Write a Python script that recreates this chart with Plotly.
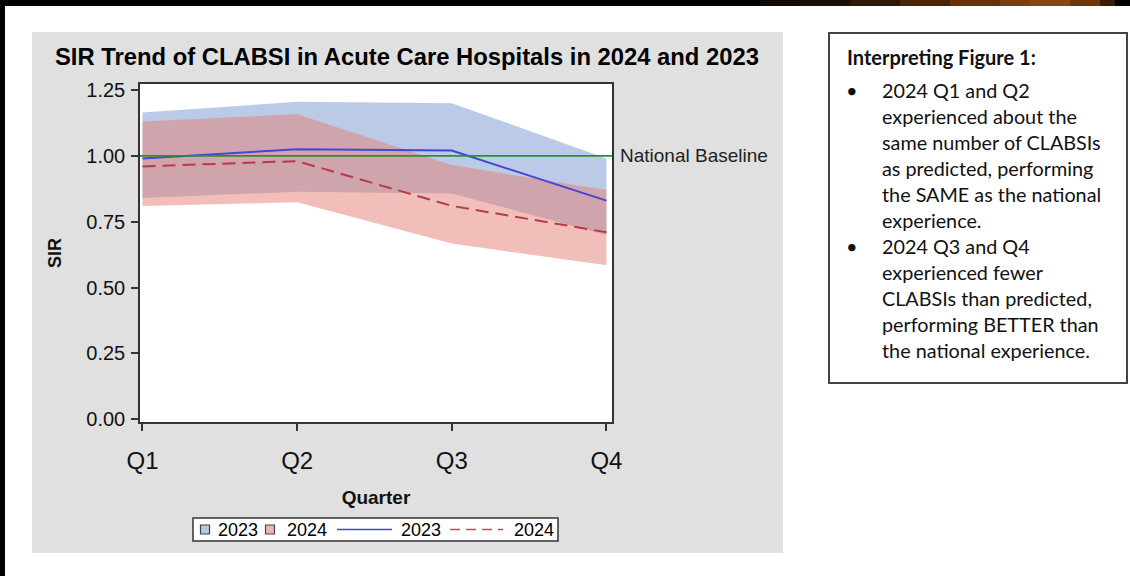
import plotly.graph_objects as go

# ---------------- data ----------------
quarters = ["Q1", "Q2", "Q3", "Q4"]
sir_2023 = [0.99, 1.025, 1.02, 0.83]
sir_2024 = [0.96, 0.98, 0.81, 0.71]
ci_2023_upper = [1.165, 1.205, 1.20, 0.99]
ci_2023_lower = [0.84, 0.864, 0.857, 0.70]
ci_2024_upper = [1.13, 1.158, 0.965, 0.87]
ci_2024_lower = [0.81, 0.824, 0.667, 0.585]
national_baseline = 1.0
y_ticks = [0.0, 0.25, 0.5, 0.75, 1.0, 1.25]

title_text = "SIR Trend of CLABSI in Acute Care Hospitals in 2024 and 2023"
note_heading = "Interpreting Figure 1:"
note_lines = [
    "2024 Q1 and Q2", "experienced about the", "same number of CLABSIs",
    "as predicted, performing", "the SAME as the national", "experience.",
    "2024 Q3 and Q4", "experienced fewer", "CLABSIs than predicted,",
    "performing BETTER than", "the national experience.",
]
bullet_rows = [0, 6]

# ---------------- layout geometry (pixels) ----------------
W, H = 1130, 576
L, R, T, B = 140, 612, 84, 422


def px(x):
    return (x - L) / (R - L)


def py(y):
    return (B - y) / (B - T)


ARIAL = "Liberation Sans, Arial, sans-serif"
CAL = "Lato, Carlito, Calibri, sans-serif"

BLUE_FILL = "rgba(120,150,205,0.5)"
RED_FILL = "rgba(228,125,115,0.5)"
BLUE_LINE = "#4646d4"
RED_LINE = "#b73a4a"
GREEN = "#2f8f2f"

fig = go.Figure()

fig.add_trace(go.Scatter(
    x=quarters + quarters[::-1], y=ci_2023_upper + ci_2023_lower[::-1],
    fill="toself", fillcolor=BLUE_FILL, mode="none", name="2023", showlegend=False,
    hoverinfo="skip"))
fig.add_trace(go.Scatter(
    x=quarters + quarters[::-1], y=ci_2024_upper + ci_2024_lower[::-1],
    fill="toself", fillcolor=RED_FILL, mode="none", name="2024", showlegend=False,
    hoverinfo="skip"))
fig.add_trace(go.Scatter(
    x=quarters, y=sir_2023, mode="lines", name="2023",
    line=dict(color=BLUE_LINE, width=2), showlegend=False))
fig.add_trace(go.Scatter(
    x=quarters, y=sir_2024, mode="lines", name="2024",
    line=dict(color=RED_LINE, width=2, dash="13px,7px"), showlegend=False))

shapes = []
# gray panel behind chart
shapes.append(dict(type="rect", xref="paper", yref="paper", x0=px(32), x1=px(783),
                   y0=py(32), y1=py(553), fillcolor="#e0e0e0", line_width=0, layer="below"))
# white plot area
shapes.append(dict(type="rect", xref="paper", yref="paper", x0=0, x1=1, y0=0, y1=1,
                   fillcolor="white", line_width=0, layer="below"))
# national baseline
shapes.append(dict(type="line", xref="paper", yref="y", x0=0, x1=1,
                   y0=national_baseline, y1=national_baseline,
                   line=dict(color=GREEN, width=1.6)))
# left black border and top band
shapes.append(dict(type="rect", xref="paper", yref="paper", x0=px(0), x1=px(5),
                   y0=py(576), y1=py(0), fillcolor="black", line_width=0))
shapes.append(dict(type="rect", xref="paper", yref="paper", x0=px(0), x1=px(1130),
                   y0=py(6), y1=py(0), fillcolor="black", line_width=0))
grad = [(760, 800, "#100803"), (800, 850, "#1e0f04"), (850, 900, "#2e1705"),
        (900, 950, "#4a2407"), (950, 1000, "#673209"), (1000, 1030, "#7d3e0b"),
        (1030, 1070, "#8a450d"), (1070, 1100, "#6e360a"), (1100, 1115, "#3a1c05")]
for x0, x1, c in grad:
    shapes.append(dict(type="rect", xref="paper", yref="paper", x0=px(x0), x1=px(x1),
                       y0=py(6), y1=py(0), fillcolor=c, line_width=0))

# note box on the right
shapes.append(dict(type="rect", xref="paper", yref="paper", x0=px(829), x1=px(1127),
                   y0=py(383), y1=py(33), fillcolor="white",
                   line=dict(color="#444444", width=2)))

# custom legend box
shapes.append(dict(type="rect", xref="paper", yref="paper", x0=px(193), x1=px(558),
                   y0=py(541), y1=py(518), fillcolor="white",
                   line=dict(color="#333333", width=1.5)))
leg_y = 529.5
shapes.append(dict(type="rect", xref="paper", yref="paper", x0=px(200.5), x1=px(209.5),
                   y0=py(leg_y + 4.5), y1=py(leg_y - 4.5), fillcolor="#b9c8e3",
                   line=dict(color="#444444", width=1.2)))
shapes.append(dict(type="rect", xref="paper", yref="paper", x0=px(265.5), x1=px(274.5),
                   y0=py(leg_y + 4.5), y1=py(leg_y - 4.5), fillcolor="#e9b9b0",
                   line=dict(color="#444444", width=1.2)))
shapes.append(dict(type="line", xref="paper", yref="paper", x0=px(337), x1=px(392),
                   y0=py(leg_y), y1=py(leg_y), line=dict(color=BLUE_LINE, width=1.5)))
shapes.append(dict(type="line", xref="paper", yref="paper", x0=px(450), x1=px(503),
                   y0=py(leg_y), y1=py(leg_y),
                   line=dict(color="#d04455", width=1.5, dash="10px,6px")))

annotations = []
annotations.append(dict(xref="paper", yref="paper", x=px(407), y=py(57),
                        text="<b>" + title_text + "</b>", showarrow=False,
                        xanchor="center", yanchor="middle",
                        font=dict(family=ARIAL, size=23.8, color="#000000")))
annotations.append(dict(xref="paper", yref="y", x=1, y=national_baseline,
                        text="National Baseline", showarrow=False, xanchor="left",
                        yanchor="middle", xshift=6,
                        font=dict(family=ARIAL, size=19, color="#222222")))
for xl, txt in [(216, "2023"), (285, "2024"), (399, "2023"), (512, "2024")]:
    annotations.append(dict(xref="paper", yref="paper", x=px(xl), y=py(leg_y),
                            text=txt, showarrow=False, xanchor="left", yanchor="middle",
                            font=dict(family=ARIAL, size=18, color="#000000")))

annotations.append(dict(xref="paper", yref="paper", x=px(845), y=py(57),
                        text="<b>" + note_heading + "</b>", showarrow=False,
                        xanchor="left", yanchor="middle",
                        font=dict(family=CAL, size=20, color="#111111")))
line_y0, line_dy = 90, 26
for i, txt in enumerate(note_lines):
    annotations.append(dict(xref="paper", yref="paper", x=px(880), y=py(line_y0 + i * line_dy),
                            text=txt, showarrow=False, xanchor="left", yanchor="middle",
                            font=dict(family=CAL, size=19.8, color="#111111")))
for r in bullet_rows:
    annotations.append(dict(xref="paper", yref="paper", x=px(852), y=py(line_y0 + r * line_dy),
                            text="\u2022", showarrow=False, xanchor="center", yanchor="middle",
                            font=dict(family=CAL, size=20, color="#111111")))

fig.update_layout(
    width=W, height=H,
    margin=dict(l=L, r=W - R, t=T, b=H - B, pad=0),
    paper_bgcolor="white", plot_bgcolor="white",
    showlegend=False,
    shapes=shapes, annotations=annotations,
    xaxis=dict(
        type="category", range=[-0.016, 3.036], showgrid=False, zeroline=False,
        showline=True, mirror=True, linecolor="#333333", linewidth=1.5,
        ticks="outside", ticklen=7, tickwidth=1.5, tickcolor="#333333",
        tickfont=dict(family=ARIAL, size=24, color="#111111"), ticklabelstandoff=9,
        title=dict(text="<b>Quarter</b>", standoff=18,
                   font=dict(family=ARIAL, size=19, color="#111111")),
        automargin=False,
    ),
    yaxis=dict(
        range=[-0.0103, 1.2728], tickvals=y_ticks, tickformat=".2f",
        showgrid=False, zeroline=False,
        showline=True, mirror=True, linecolor="#333333", linewidth=1.5,
        ticks="outside", ticklen=7, tickwidth=1.5, tickcolor="#333333",
        tickfont=dict(family=ARIAL, size=20, color="#111111"), ticklabelstandoff=2,
        title=dict(text="<b>SIR</b>", standoff=20,
                   font=dict(family=ARIAL, size=18, color="#111111")),
        automargin=False,
    ),
)

fig.write_html("out.html", config={"displayModeBar": False},
               post_script="document.body.style.margin='0px';")
